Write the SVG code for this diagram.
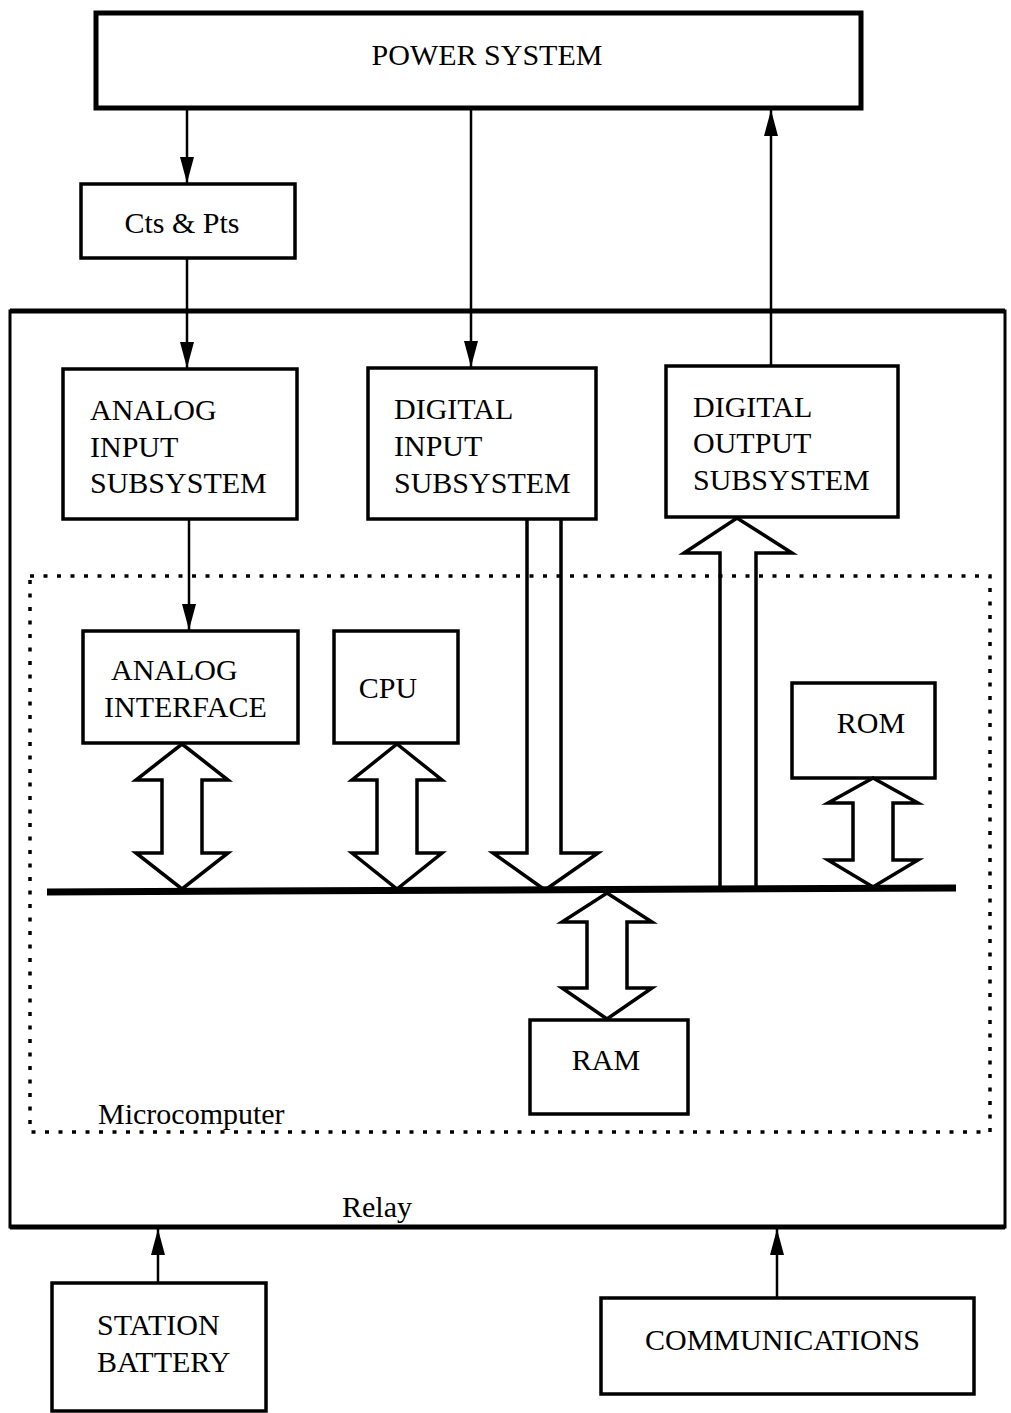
<svg xmlns="http://www.w3.org/2000/svg" width="1011" height="1413" viewBox="0 0 1011 1413">
<defs>
<style>
.box{fill:none;stroke:#000;stroke-width:3.5}
.t{font-family:"Liberation Serif","Times New Roman",serif;font-size:30px;fill:#000}
.c{text-anchor:middle}
.ln{stroke:#000;stroke-width:2.5;fill:none}
.ha{fill:#fff;stroke:#000;stroke-width:3.5;stroke-linejoin:miter}
.hs{fill:none;stroke:#000;stroke-width:3.5;stroke-linejoin:miter}
</style>
<marker id="ah" markerUnits="userSpaceOnUse" markerWidth="26" markerHeight="14" refX="26" refY="7" orient="auto">
<path d="M0,0 L26,7 L0,14 z" fill="#000"/>
</marker>
</defs>
<rect width="1011" height="1413" fill="#fff"/>

<g id="relay">
<rect x="10" y="311" width="995" height="916" class="box" style="stroke-width:3"/>
<line x1="10" y1="311" x2="1005" y2="311" stroke="#000" stroke-width="5"/>
<line x1="10" y1="1227" x2="1005" y2="1227" stroke="#000" stroke-width="5"/>
<text x="342" y="1217" class="t">Relay</text>
</g>

<g id="microcomputer">
<rect x="30" y="576" width="960" height="556" fill="none" stroke="#000" stroke-width="3.5" stroke-dasharray="4 9.5"/>
<text x="98" y="1124" class="t">Microcomputer</text>
</g>

<g id="power-system">
<rect x="96" y="13" width="765" height="95" class="box" style="stroke-width:5"/>
<text x="487" y="65" class="t c">POWER SYSTEM</text>
</g>

<g id="cts-pts">
<rect x="81" y="184" width="214" height="74" class="box"/>
<text x="182" y="233" class="t c">Cts &amp; Pts</text>
</g>

<g id="analog-input">
<rect x="63" y="369" width="234" height="150" class="box"/>
<text class="t"><tspan x="90" y="420">ANALOG</tspan><tspan x="90" y="457">INPUT</tspan><tspan x="90" y="493">SUBSYSTEM</tspan></text>
</g>

<g id="digital-input">
<rect x="368" y="368" width="228" height="151" class="box"/>
<text class="t"><tspan x="394" y="419">DIGITAL</tspan><tspan x="394" y="456">INPUT</tspan><tspan x="394" y="493">SUBSYSTEM</tspan></text>
</g>

<g id="digital-output">
<rect x="666" y="366" width="232" height="151" class="box"/>
<text class="t"><tspan x="693" y="417">DIGITAL</tspan><tspan x="693" y="453">OUTPUT</tspan><tspan x="693" y="490">SUBSYSTEM</tspan></text>
</g>

<g id="analog-interface">
<rect x="83" y="631" width="215" height="112" class="box"/>
<text class="t"><tspan x="111" y="680">ANALOG</tspan><tspan x="104" y="717">INTERFACE</tspan></text>
</g>

<g id="cpu">
<rect x="334" y="631" width="124" height="112" class="box"/>
<text x="388" y="698" class="t c">CPU</text>
</g>

<g id="rom">
<rect x="792" y="683" width="143" height="95" class="box"/>
<text x="871" y="733" class="t c">ROM</text>
</g>

<g id="ram">
<rect x="530" y="1020" width="158" height="94" class="box"/>
<text x="606" y="1070" class="t c">RAM</text>
</g>

<g id="station-battery">
<rect x="52" y="1283" width="214" height="128" class="box"/>
<text class="t"><tspan x="97" y="1335">STATION</tspan><tspan x="97" y="1372">BATTERY</tspan></text>
</g>

<g id="communications">
<rect x="601" y="1298" width="373" height="96" class="box"/>
<text x="645" y="1350" class="t">COMMUNICATIONS</text>
</g>

<g id="connectors">
<line x1="187" y1="110" x2="187" y2="183" class="ln" marker-end="url(#ah)"/>
<line x1="187" y1="259" x2="187" y2="368" class="ln" marker-end="url(#ah)"/>
<line x1="471" y1="110" x2="471" y2="367" class="ln" marker-end="url(#ah)"/>
<line x1="771" y1="365" x2="771" y2="110" class="ln" marker-end="url(#ah)"/>
<line x1="189" y1="520" x2="189" y2="630" class="ln" marker-end="url(#ah)"/>
<line x1="158" y1="1282" x2="158" y2="1229" class="ln" marker-end="url(#ah)"/>
<line x1="777" y1="1297" x2="777" y2="1229" class="ln" marker-end="url(#ah)"/>

<polygon class="ha" points="182,744 228,780 202,780 202,853 228,853 182,889 136,853 162,853 162,780 136,780"/>
<polygon class="ha" points="397,744 442,780 417,780 417,853 442,853 397,889 352,853 377,853 377,780 352,780"/>
<polygon class="ha" points="873,778 918,803 893,803 893,860 918,860 873,887 828,860 853,860 853,803 828,803"/>
<polygon class="ha" points="607,893 652,922 627,922 627,988 652,988 607,1019 562,988 587,988 587,922 562,922"/>
<polyline class="hs" points="527,519 527,853 493,853 545,890 598,853 561,853 561,519"/>
<polyline class="hs" points="720,888 720,553 684,553 737,518 792,553 756,553 756,888"/>

<line x1="47" y1="892" x2="956" y2="888" stroke="#000" stroke-width="7"/>
</g>
</svg>
